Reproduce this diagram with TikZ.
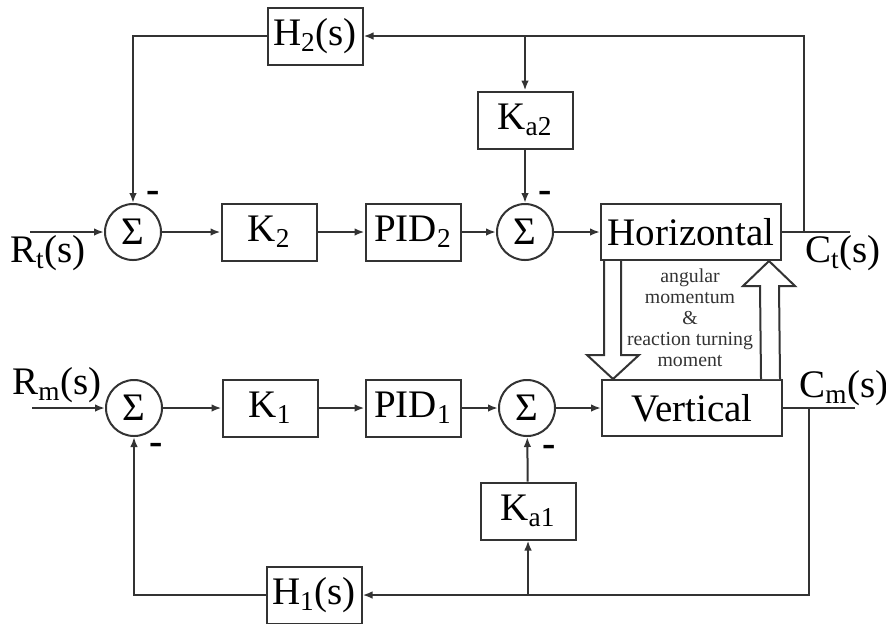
\documentclass[tikz,border=0pt]{standalone}
\usepackage{fontspec}
\setmainfont{Liberation Serif}
\usetikzlibrary{arrows.meta,positioning,calc}

\begin{document}
\begin{tikzpicture}[
    x=0.5pt, y=-0.5pt,
    every node/.style={font=\fontsize{19.5}{23}\selectfont},
    block/.style={draw=black!80, line width=1pt, inner sep=0pt, minimum width=47.5pt, minimum height=28.5pt},
    plant/.style={block, minimum width=90pt, minimum height=28pt},
    sum/.style={draw=black!80, circle, line width=1pt, inner sep=0pt, minimum size=28pt},
    sig/.style={-{Latex[length=5pt,width=3.8pt]}, line width=1pt, draw=black!80},
    wire/.style={line width=1pt, draw=black!80},
    hollow/.style={draw=black!80, line width=1pt, fill=white},
    minus/.style={inner sep=0pt, font=\fontsize{20}{20}\selectfont\bfseries}
]
\useasboundingbox (0,0) rectangle (886,623);

% horizontal loop
\node[sum] (st) at (133,232) {Σ};
\node[block] (k2) at (269,232) {K\textsubscript{2}};
\node[block] (pid2) at (413,232) {PID\textsubscript{2}};
\node[sum] (sta) at (525,232) {Σ};
\node[plant] (hor) at (691,232) {Horizontal};
\node[block] (h2) at (315,36) {H\textsubscript{2}(s)};
\node[block] (ka2) at (525,120) {K\textsubscript{a2}};

% vertical loop
\node[sum] (sm) at (134,408) {Σ};
\node[block] (k1) at (270,408) {K\textsubscript{1}};
\node[block] (pid1) at (413,408) {PID\textsubscript{1}};
\node[sum] (sma) at (527,408) {Σ};
\node[plant] (ver) at (692,408) {Vertical};
\node[block] (h1) at (314,595) {H\textsubscript{1}(s)};
\node[block] (ka1) at (528,511) {K\textsubscript{a1}};

% inputs and outputs
\coordinate (rt) at (30,232);
\node (rtl) at (48,253) {R\textsubscript{t}(s)};
\coordinate (rm) at (32,408);
\node (rml) at (57,385) {R\textsubscript{m}(s)};
\coordinate (ct) at (850,232);
\coordinate (tapt) at (804,232);
\node (ctl) at (843,253) {C\textsubscript{t}(s)};
\coordinate (cm) at (855,408);
\coordinate (tapm) at (809,408);
\node (cml) at (844,388) {C\textsubscript{m}(s)};

% minus signs
\node[minus] (mst) at (153,197) {-};
\node[minus] (msta) at (545,197) {-};
\node[minus] (msm) at (156,449) {-};
\node[minus] (msma) at (549,451) {-};

% forward paths
\draw[sig] (rt) -- (st);
\draw[sig] (st) -- (k2);
\draw[sig] (k2) -- (pid2);
\draw[sig] (pid2) -- (sta);
\draw[sig] (sta) -- (hor);
\draw[wire] (hor) -- (ct);
\draw[sig] (rm) -- (sm);
\draw[sig] (sm) -- (k1);
\draw[sig] (k1) -- (pid1);
\draw[sig] (pid1) -- (sma);
\draw[sig] (sma) -- (ver);
\draw[wire] (ver) -- (cm);

% feedback paths
\draw[sig] (tapt) |- (h2);
\draw[sig] (h2) -| (st);
\draw[sig] (ka2 |- h2) -- (ka2);
\draw[sig] (ka2) -- (sta);
\draw[sig] (tapm) |- (h1);
\draw[sig] (h1) -| (sm);
\draw[sig] (ka1 |- h1) -- (ka1);
\draw[sig] (ka1) -- (sma);

% coupling arrows
\draw[hollow] ($(hor.south west)+(4,0)$) -- ($(ver.north west)+(3,-24)$) -- ($(ver.north west)+(-14,-24)$)
    -- ($(ver.north west)+(12,0)$) -- ($(ver.north west)+(38,-24)$) -- ($(ver.north west)+(20,-24)$)
    -- ($(hor.south west)+(21,0)$);
\draw[hollow] ($(ver.north east)+(-22,0)$) -- ($(hor.south east)+(-22,25)$) -- ($(hor.south east)+(-39,25)$)
    -- ($(hor.south east)+(-13,0)$) -- ($(hor.south east)+(13,25)$) -- ($(hor.south east)+(-3,25)$)
    -- ($(ver.north east)+(-3,0)$);
\node[font=\fontsize{9.9}{10.5}\selectfont, align=center, text=black!80] (amt) at (690,318)
    {angular\\momentum\\\&\\reaction turning\\moment};
\end{tikzpicture}
\end{document}
